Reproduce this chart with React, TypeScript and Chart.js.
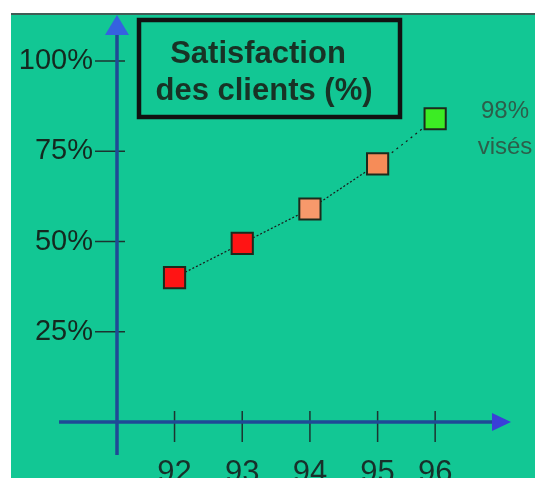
import { useEffect, useRef } from "react";
import { Chart, registerables } from "chart.js";

Chart.register(...registerables);

// ---- data ----
const years = ["92", "93", "94", "95", "96"];
const yearPos = [92, 93, 94, 95, 95.85];
const satisfaction = [40, 49.5, 59, 71.5, 84];
const yTickValues = [25, 50, 75, 100];
const pointColors = ["#ff1414", "#ff1414", "#f7996b", "#f68c58", "#3cec24"];
const titleLines = ["Satisfaction", "des clients (%)"];
const targetLines = ["98%", "visés"];

const GREEN = "#12c794";
const FONT = '"Liberation Sans", Arial, sans-serif';

const decor = {
  id: "decor",
  beforeDraw(chart: any) {
    const { ctx, width, height } = chart;
    ctx.save();
    ctx.fillStyle = "#ffffff";
    ctx.fillRect(0, 0, width, height);
    ctx.fillStyle = GREEN;
    ctx.fillRect(3, 6, width - 3, height - 6);
    ctx.fillStyle = "#3f5d55";
    ctx.fillRect(3, 5, width - 3, 2);
    ctx.restore();
  },
  beforeDatasetsDraw(chart: any) {
    const { ctx } = chart;
    const xs = chart.scales.x;
    const ys = chart.scales.y;
    const ax = xs.getPixelForValue(xs.min);
    const ay = ys.getPixelForValue(0);
    const top = chart.chartArea.top;
    ctx.save();
    // tick marks
    ctx.strokeStyle = "#1c3330";
    ctx.lineWidth = 1.5;
    ys.ticks.forEach((t: any) => {
      const py = ys.getPixelForValue(t.value);
      ctx.beginPath();
      ctx.moveTo(ax - 22, py);
      ctx.lineTo(ax + 8, py);
      ctx.stroke();
    });
    xs.ticks.forEach((t: any) => {
      const px = xs.getPixelForValue(t.value);
      ctx.beginPath();
      ctx.moveTo(px, ay - 11);
      ctx.lineTo(px, ay + 20);
      ctx.stroke();
    });
    // axis lines
    ctx.strokeStyle = "#1f4a96";
    ctx.lineWidth = 3.5;
    const vTip = top - 46;
    ctx.beginPath();
    ctx.moveTo(ax, vTip + 18);
    ctx.lineTo(ax, ay + 33);
    ctx.stroke();
    const hTip = xs.right - 2;
    ctx.beginPath();
    ctx.moveTo(ax - 58, ay);
    ctx.lineTo(hTip - 17, ay);
    ctx.stroke();
    // arrowheads
    ctx.fillStyle = "#3562e0";
    ctx.beginPath();
    ctx.moveTo(ax, vTip);
    ctx.lineTo(ax + 12, vTip + 20);
    ctx.lineTo(ax - 12, vTip + 20);
    ctx.closePath();
    ctx.fill();
    ctx.fillStyle = "#3a3fd8";
    ctx.beginPath();
    ctx.moveTo(hTip, ay);
    ctx.lineTo(hTip - 19, ay - 9);
    ctx.lineTo(hTip - 19, ay + 9);
    ctx.closePath();
    ctx.fill();
    ctx.restore();
  },
  afterDraw(chart: any) {
    const { ctx } = chart;
    ctx.save();
    // title box
    ctx.strokeStyle = "#111111";
    ctx.lineWidth = 4.5;
    ctx.strokeRect(131, 12, 261, 97);
    ctx.fillStyle = "#183225";
    ctx.font = `bold 31px ${FONT}`;
    ctx.textAlign = "center";
    ctx.textBaseline = "alphabetic";
    ctx.fillText(titleLines[0], 250, 55);
    ctx.fillText(titleLines[1], 256, 92);
    // target annotation
    ctx.fillStyle = "#2d5e4a";
    ctx.font = `24px ${FONT}`;
    ctx.fillText(targetLines[0], 497, 110);
    ctx.fillText(targetLines[1], 497, 146);
    ctx.restore();
  },
};

export default function App() {
  const ref = useRef<HTMLCanvasElement | null>(null);
  useEffect(() => {
    if (!ref.current) return;
    const chart = new Chart(ref.current, {
      type: "line",
      data: {
        datasets: [
          {
            data: yearPos.map((x, i) => ({ x, y: satisfaction[i] })),
            borderColor: "#1a1a1a",
            borderWidth: 1.2,
            borderDash: [2, 2],
            pointStyle: "rect",
            pointRadius: 15,
            pointHoverRadius: 15,
            pointBorderWidth: 2,
            pointBorderColor: "#1c2a1c",
            pointBackgroundColor: pointColors,
            tension: 0,
            fill: false,
            segment: {
              borderDash: (c: any) => (c.p1DataIndex === 4 ? [2, 4] : undefined),
            },
          } as any,
        ],
      },
      options: {
        animation: false,
        responsive: false,
        layout: { padding: { top: 53, right: 22, left: 0, bottom: 0 } },
        plugins: { legend: { display: false }, tooltip: { enabled: false } },
        scales: {
          x: {
            type: "linear",
            min: 91.15,
            max: 97,
            grid: { display: false },
            border: { display: false },
            afterBuildTicks: (s: any) => {
              s.ticks = yearPos.map((v) => ({ value: v }));
            },
            afterFit: (s: any) => {
              s.height = 56;
            },
            ticks: {
              callback: (_v: any, i: number) => years[i],
              font: { family: FONT, size: 31 },
              color: "#17302a",
              padding: 25,
              maxRotation: 0,
              autoSkip: false,
            },
          },
          y: {
            min: 0,
            max: 100,
            grid: { display: false },
            border: { display: false },
            afterBuildTicks: (s: any) => {
              s.ticks = yTickValues.map((v) => ({ value: v }));
            },
            afterFit: (s: any) => {
              s.width = 109;
            },
            ticks: {
              callback: (v: any) => `${v}%`,
              font: { family: FONT, size: 29 },
              color: "#14281f",
              padding: 16,
            },
          },
        },
      },
      plugins: [decor],
    } as any);
    return () => chart.destroy();
  }, []);
  return (
    <canvas
      ref={ref}
      width={527}
      height={470}
      style={{ display: "block", position: "absolute", left: 8, top: 8 }}
    />
  );
}
